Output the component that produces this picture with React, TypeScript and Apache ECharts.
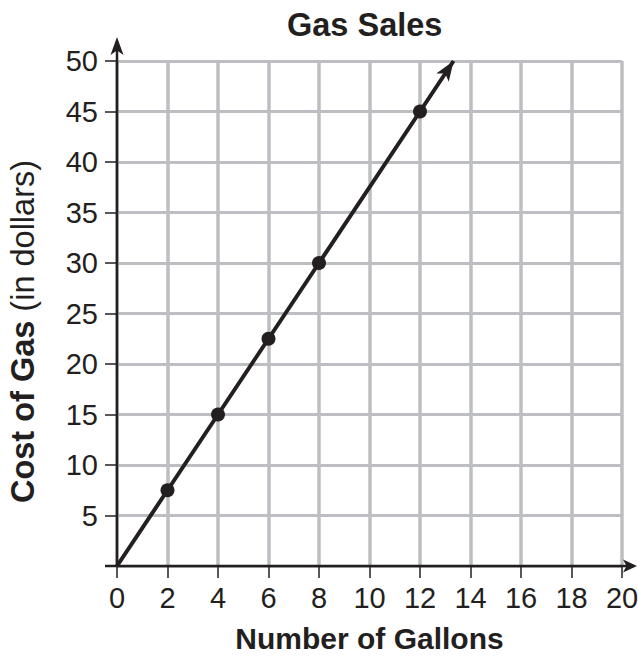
import React, { useEffect, useRef } from "react";
import * as echarts from "echarts";

const title = "Gas Sales";
const xName = "Number of Gallons";
const yNameBold = "Cost of Gas";
const yNameRegular = "(in dollars)";
const xMin = 0;
const xMax = 20;
const xStep = 2;
const yMin = 0;
const yMax = 50;
const yStep = 5;
const gallons = [0, 2, 4, 6, 8, 12];
const cost = [0, 7.5, 15, 22.5, 30, 45];
const dotGallons = [2, 4, 6, 8, 12];
const dotCost = [7.5, 15, 22.5, 30, 45];
const arrowEnd = [13.33, 50];

const INK = "#231f20";
const GRID = "#bdbec1";
const FONT = "'Liberation Sans', Arial, Helvetica, sans-serif";

function arrowHead(tip: number[], from: number[], len: number, half: number, notch: number) {
  const dx = tip[0] - from[0];
  const dy = tip[1] - from[1];
  const d = Math.hypot(dx, dy) || 1;
  const ux = dx / d;
  const uy = dy / d;
  const nx = -uy;
  const ny = ux;
  const bx = tip[0] - ux * len;
  const by = tip[1] - uy * len;
  return [
    [tip[0], tip[1]],
    [bx + nx * half, by + ny * half],
    [tip[0] - ux * (len - notch), tip[1] - uy * (len - notch)],
    [bx - nx * half, by - ny * half],
  ];
}

export default function App() {
  const ref = useRef<HTMLDivElement>(null);
  useEffect(() => {
    const chart = echarts.init(ref.current!, null, { renderer: "svg" });
    const lineData = gallons.map((g, i) => [g, cost[i]]);
    lineData.push(arrowEnd);
    const option: any = {
      animation: false,
      backgroundColor: "#ffffff",
      title: {
        text: title,
        left: 282,
        top: 3,
        textStyle: { fontFamily: FONT, fontWeight: "bold", fontSize: 32.5, color: INK },
      },
      grid: {
        left: 117,
        right: 16,
        top: 61,
        bottom: 90,
        containLabel: false,
        outerBoundsMode: "none",
      },
      xAxis: {
        type: "value",
        min: xMin,
        max: xMax,
        interval: xStep,
        name: xName,
        nameLocation: "middle",
        nameGap: 60,
        nameTextStyle: {
          fontFamily: FONT,
          fontWeight: "bold",
          fontSize: 30,
          lineHeight: 25,
          color: INK,
        },
        axisLine: { show: false },
        axisTick: { show: true, length: 12, lineStyle: { color: INK, width: 1.5 } },
        axisLabel: { fontFamily: FONT, fontSize: 29, color: INK, margin: 17 },
        splitLine: { show: true, lineStyle: { color: GRID, width: 3.5 } },
      },
      yAxis: {
        type: "value",
        min: yMin,
        max: yMax,
        interval: yStep,
        name: `{b|${yNameBold}} {r|${yNameRegular}}`,
        nameLocation: "middle",
        nameGap: 78,
        nameTextStyle: {
          fontFamily: FONT,
          fontSize: 32.5,
          color: INK,
          padding: [0, 36, 0, 0],
          rich: {
            b: { fontFamily: FONT, fontWeight: "bold", fontSize: 32.5, color: INK },
            r: { fontFamily: FONT, fontSize: 32.5, color: INK },
          },
        },
        axisLine: { show: false },
        axisTick: { show: true, length: 12, lineStyle: { color: INK, width: 1.5 } },
        axisLabel: {
          fontFamily: FONT,
          fontSize: 29,
          color: INK,
          margin: 19,
          formatter: (v: number) => (v === 0 ? "" : String(v)),
        },
        splitLine: { show: true, lineStyle: { color: GRID, width: 3 } },
      },
      series: [
        {
          type: "line",
          data: lineData,
          showSymbol: false,
          lineStyle: { color: INK, width: 4 },
          silent: true,
          z: 5,
        },
        {
          type: "scatter",
          data: dotGallons.map((g, i) => [g, dotCost[i]]),
          symbol: "circle",
          symbolSize: 14,
          itemStyle: { color: INK, opacity: 1 },
          silent: true,
          z: 6,
        },
      ],
    };
    chart.setOption(option);

    const px = (p: number[]) => chart.convertToPixel({ gridIndex: 0 }, p) as number[];
    const o = px([xMin, yMin]);
    const xe = px([xMax, yMin]);
    const ye = px([xMin, yMax]);
    const xTip = xe[0] + 15;
    const yTip = ye[1] - 24;
    const lTip = px(arrowEnd);
    const lFrom = px(lineData[lineData.length - 2]);
    chart.setOption({
      graphic: [
        {
          type: "line",
          z: 10,
          shape: { x1: o[0] - 12, y1: o[1], x2: xTip - 8, y2: o[1] },
          style: { stroke: INK, lineWidth: 2.5 },
        },
        {
          type: "polygon",
          z: 10,
          shape: { points: arrowHead([xTip, o[1]], [o[0], o[1]], 14, 6.5, 3.5) },
          style: { fill: INK },
        },
        {
          type: "line",
          z: 10,
          shape: { x1: o[0], y1: o[1], x2: o[0], y2: yTip + 10 },
          style: { stroke: INK, lineWidth: 2.5 },
        },
        {
          type: "polygon",
          z: 10,
          shape: { points: arrowHead([o[0], yTip], [o[0], o[1]], 18, 6.5, 4.5) },
          style: { fill: INK },
        },
        {
          type: "polygon",
          z: 10,
          shape: { points: arrowHead(lTip, lFrom, 20, 7.5, 5) },
          style: { fill: INK },
        },
      ],
    });
    return () => chart.dispose();
  }, []);
  return (
    <div
      ref={ref}
      style={{ position: "absolute", left: 0, top: 0, width: 638, height: 656 }}
    />
  );
}
